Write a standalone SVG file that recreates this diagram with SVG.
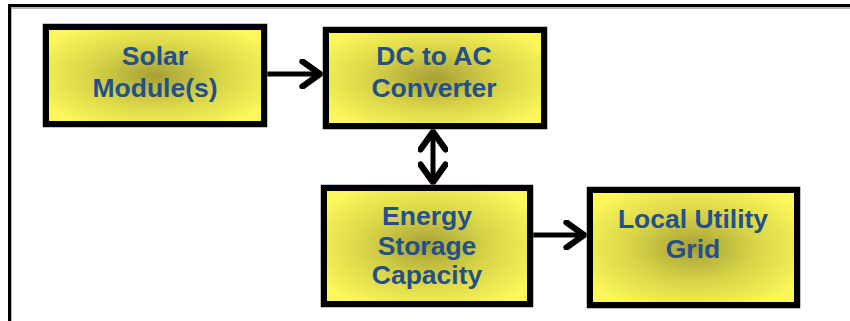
<svg xmlns="http://www.w3.org/2000/svg" width="850" height="321" viewBox="0 0 850 321">
<style>
.box{stroke:#000;stroke-width:6;fill:url(#g)}
.sh{fill:none;stroke:#8a8a8a;stroke-width:1}
.t{font-family:"Liberation Sans",Arial,sans-serif;font-weight:bold;font-size:26.5px;fill:#24508a;text-anchor:middle}
.c{stroke:#000;stroke-width:5;fill:none}
</style>
<defs>
<radialGradient id="g" cx="0.5" cy="0.5" r="0.6">
<stop offset="0" stop-color="#a6a036"/>
<stop offset="0.5" stop-color="#d8d448"/>
<stop offset="1" stop-color="#fcf75a"/>
</radialGradient>
<marker id="a" markerUnits="userSpaceOnUse" markerWidth="30" markerHeight="30" viewBox="-16 -12 20 24" refX="0" refY="0" orient="auto-start-reverse">
<path d="M-14,-10 L0,0 L-14,10" fill="none" stroke="#000" stroke-width="5" stroke-linecap="round" stroke-linejoin="miter"/>
</marker>
</defs>
<rect width="850" height="321" fill="#fff"/>
<rect x="11" y="8" width="850" height="330" fill="none" stroke="#9a9a9a" stroke-width="1.5"/>
<rect x="9.5" y="5.5" width="850" height="330" fill="none" stroke="#000" stroke-width="3"/>
<g id="connectors">
<line class="c" x1="267" y1="74" x2="320" y2="74" marker-end="url(#a)"/>
<line class="c" x1="433" y1="132" x2="433" y2="182" marker-start="url(#a)" marker-end="url(#a)"/>
<line class="c" x1="533" y1="235" x2="584" y2="235" marker-end="url(#a)"/>
</g>
<g id="solar">
<rect class="sh" x="43" y="24" width="224" height="103"/>
<rect class="box" x="46" y="27" width="218" height="97"/>
<text class="t" x="155" y="65">Solar</text>
<text class="t" x="155" y="97">Module(s)</text>
</g>
<g id="converter">
<rect class="sh" x="323" y="27" width="224" height="102"/>
<rect class="box" x="326" y="30" width="218" height="96"/>
<text class="t" x="434" y="65">DC to AC</text>
<text class="t" x="434" y="97">Converter</text>
</g>
<g id="storage">
<rect class="sh" x="321" y="185" width="212" height="122"/>
<rect class="box" x="324" y="188" width="206" height="116"/>
<text class="t" x="427" y="225">Energy</text>
<text class="t" x="427" y="255">Storage</text>
<text class="t" x="427" y="284">Capacity</text>
</g>
<g id="grid">
<rect class="sh" x="587" y="187" width="213" height="121"/>
<rect class="box" x="590" y="190" width="207" height="115"/>
<text class="t" x="693" y="228">Local Utility</text>
<text class="t" x="693" y="258">Grid</text>
</g>
</svg>
